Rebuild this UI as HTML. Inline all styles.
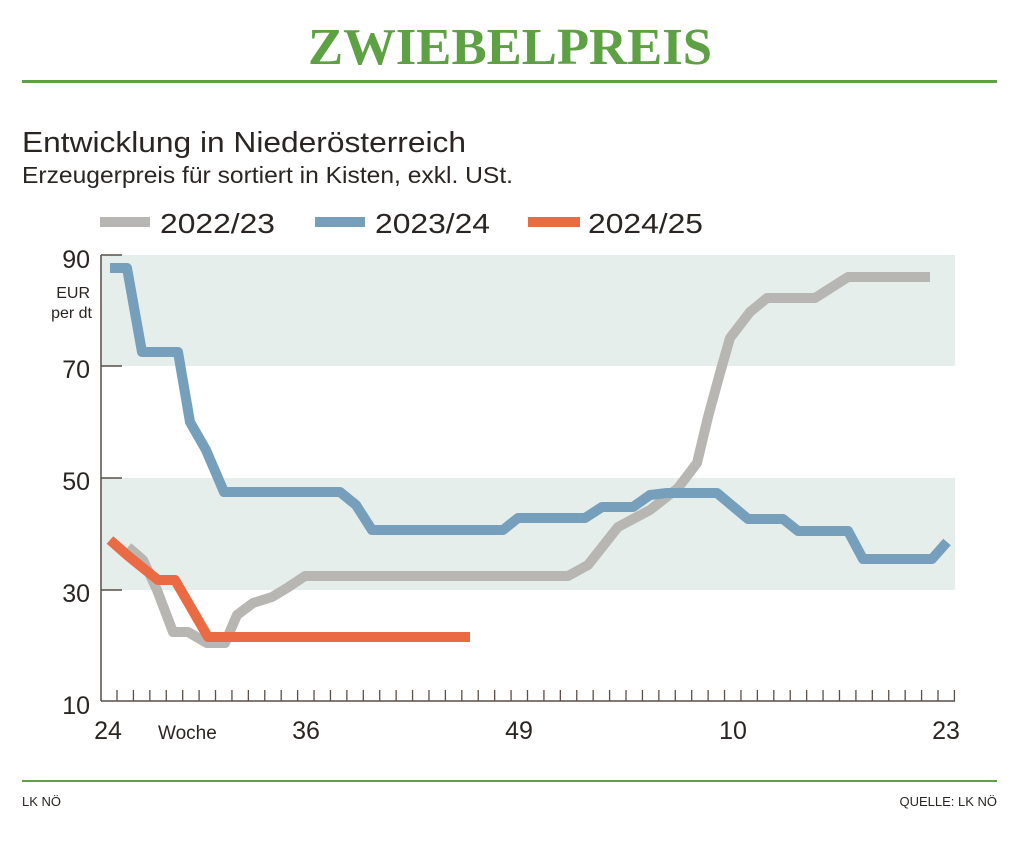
<!DOCTYPE html>
<html><head><meta charset="utf-8"><style>
body{margin:0;background:#fff;}
svg{display:block;font-family:"Liberation Sans",sans-serif;}
</style></head><body>
<svg width="1016" height="842" viewBox="0 0 1016 842">
<text x="308" y="64" textLength="404" lengthAdjust="spacingAndGlyphs" font-family="Liberation Serif,serif" font-weight="bold" font-size="52" fill="#5da144">ZWIEBELPREIS</text>
<rect x="22" y="80" width="975" height="3" fill="#5da144"/>
<text x="22" y="152" textLength="444" lengthAdjust="spacingAndGlyphs" font-size="29" fill="#2a2522">Entwicklung in Niederösterreich</text>
<text x="22" y="183" textLength="491" lengthAdjust="spacingAndGlyphs" font-size="23" fill="#2a2522">Erzeugerpreis für sortiert in Kisten, exkl. USt.</text>
<rect x="100" y="217" width="50" height="10" fill="#b8b6b3"/>
<text x="160" y="233" textLength="115" lengthAdjust="spacingAndGlyphs" font-size="28" fill="#2a2522">2022/23</text>
<rect x="315" y="217" width="50" height="10" fill="#759fbb"/>
<text x="375" y="233" textLength="115" lengthAdjust="spacingAndGlyphs" font-size="28" fill="#2a2522">2023/24</text>
<rect x="528" y="217" width="52" height="10" fill="#ea6a43"/>
<text x="588" y="233" textLength="115" lengthAdjust="spacingAndGlyphs" font-size="28" fill="#2a2522">2024/25</text>
<rect x="101" y="255" width="854" height="111" fill="#e5eeeb"/>
<rect x="101" y="478" width="854" height="112" fill="#e5eeeb"/>
<g stroke="#5a4e48" stroke-width="1.5">
<line x1="101" y1="255" x2="101" y2="701"/>
<line x1="101" y1="701" x2="955" y2="701"/>
<line x1="101" y1="255" x2="122" y2="255"/>
<line x1="101" y1="366" x2="122" y2="366"/>
<line x1="101" y1="478" x2="122" y2="478"/>
<line x1="101" y1="590" x2="122" y2="590"/>
</g>
<g stroke="#5a4e48" stroke-width="1.3" id="ticks"></g>
<g font-size="25" fill="#2a2522" text-anchor="end">
<text x="90" y="268">90</text><text x="90" y="378">70</text><text x="90" y="490">50</text><text x="90" y="602">30</text><text x="90" y="714">10</text>
</g>
<text x="90" y="298" font-size="16" text-anchor="end" fill="#2a2522">EUR</text>
<text x="92" y="318" font-size="16" text-anchor="end" fill="#2a2522">per dt</text>
<g font-size="25" fill="#2a2522" text-anchor="middle">
<text x="108" y="739">24</text><text x="306" y="739">36</text><text x="519" y="739">49</text><text x="733" y="739">10</text><text x="946" y="739">23</text>
</g>
<text x="158" y="739" font-size="19" fill="#2a2522">Woche</text>
<g fill="none" stroke-width="10" stroke-linejoin="round">
<polyline stroke="#b8b6b3" points="128,547 143,560 157,590 173,632 188,632 207,643 225,643 237,615 253,603 272,597 287,588 305,576 568,576 588,565 618,527 650,510 678,488 697,463 708,417 720,373 730,338 750,312 767,298 815,298 848,277 930,277"/>
<polyline stroke="#759fbb" points="110,268 127,268 142,352 178,352 190,422 206,450 224,492 340,492 356,505 372,530 503,530 518,518 585,518 602,507 633,507 650,495 667,493 717,493 748,519 783,519 798,531 848,531 863,559 932,559 947,542"/>
<polyline stroke="#ea6a43" points="110,540 127,555 143,568 158,580 175,580 208,637 470,637"/>
</g>
<rect x="22" y="780" width="975" height="2" fill="#5da144"/>
<text x="22" y="806" font-size="13" fill="#2a2522">LK NÖ</text>
<text x="997" y="806" font-size="13" text-anchor="end" fill="#2a2522">QUELLE: LK NÖ</text>
</svg>
<script>
var g=document.getElementById('ticks');
for(var k=0;k<52;k++){var x=117+16.42*k;if(x>955)break;var l=document.createElementNS('http://www.w3.org/2000/svg','line');l.setAttribute('x1',x);l.setAttribute('x2',x);l.setAttribute('y1',690);l.setAttribute('y2',701);g.appendChild(l);}
</script>
</body></html>
